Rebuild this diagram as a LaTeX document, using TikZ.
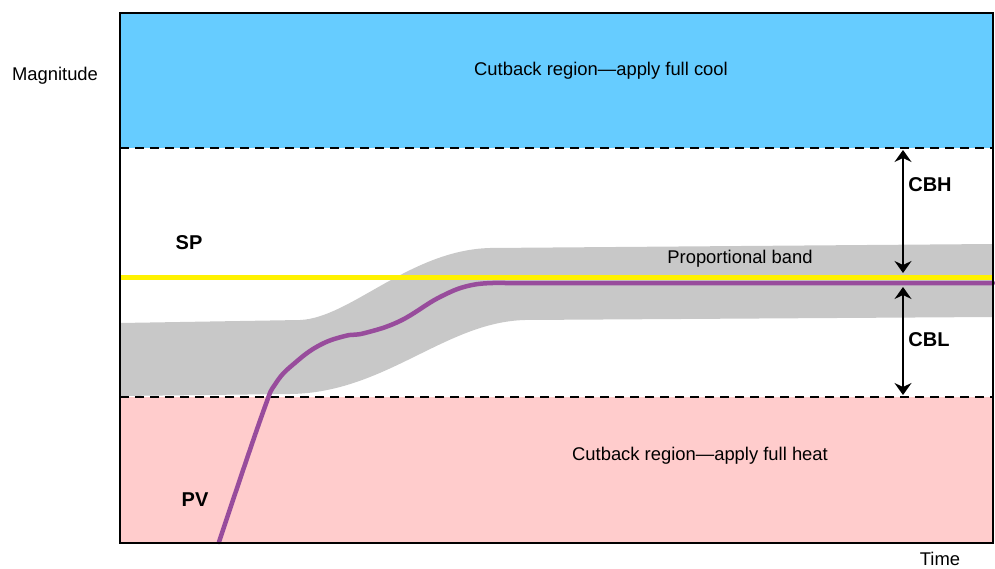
\documentclass[tikz,border=0pt]{standalone}
\usepackage{fontspec}
\setmainfont{Liberation Sans}
\usetikzlibrary{arrows.meta,positioning}
\definecolor{coolblue}{HTML}{66CCFF}
\definecolor{heatpink}{HTML}{FFCCCC}
\definecolor{bandgrey}{HTML}{C8C8C8}
\definecolor{pvpurple}{HTML}{984C9C}

\begin{document}
\begin{tikzpicture}[x=1pt,y=-1pt,
  lbl/.style={font=\fontsize{18.4}{21}\selectfont,inner sep=0pt},
  tag/.style={font=\fontsize{20}{23}\selectfont\bfseries,inner sep=0pt},
  limit/.style={line width=1.5pt,dash pattern=on 9pt off 6pt},
  span/.style={line width=1.5pt,{Stealth[length=12pt,width=17pt,inset=4pt]}-{Stealth[length=12pt,width=17pt,inset=4pt]}}
]
\useasboundingbox (0,0) rectangle (995,569);
% regions
\fill[coolblue] (120,13) rectangle (993,148);
\fill[heatpink] (120,397) rectangle (993,543);
% proportional band
\fill[bandgrey] (120,323) -- (300,320)
  .. controls (350,318) and (410,250) .. (490,248) -- (993,244)
  -- (993,317) -- (525,320)
  .. controls (445,322) and (385,393) .. (290,394) -- (120,396) -- cycle;
% cutback limits
\coordinate (cbhTop) at (903,150);
\coordinate (cblBot) at (903,395);
\coordinate (spHi) at (903,273);
\coordinate (spLo) at (903,287);
\draw[limit] (120,148) -- (993,148);
\draw[limit] (120,397) -- (993,397);
% setpoint and process value
\draw[yellow,line width=5pt] (120,277) -- (993,277);
\draw[pvpurple,line width=4.5pt,line cap=round]
  plot[smooth,tension=0.7] coordinates {(219,542) (262,415) (276,383)
    (296,362) (320,345) (345,336) (365,333) (400,321) (440,297) (472,285) (505,283)}
  -- (993,283);
% frame
\draw[line width=1.6pt] (120,13) rectangle (993,543);
% cutback spans
\draw[span] (cbhTop) -- (spHi);
\draw[span] (spLo) -- (cblBot);
% labels
\node[lbl] (cool) at (601,71) {Cutback region—apply full cool};
\node[lbl] (heat) at (700,456) {Cutback region—apply full heat};
\node[lbl] (band) at (740,259) {Proportional band};
\node[lbl] (mag) at (55,76) {Magnitude};
\node[lbl,anchor=base] (time) at (940,565) {Time};
\node[tag] (sp) at (189,243) {SP};
\node[tag] (pv) at (195,500) {PV};
\node[tag] (cbh) at (930,185) {CBH};
\node[tag] (cbl) at (929,340) {CBL};
\end{tikzpicture}
\end{document}
